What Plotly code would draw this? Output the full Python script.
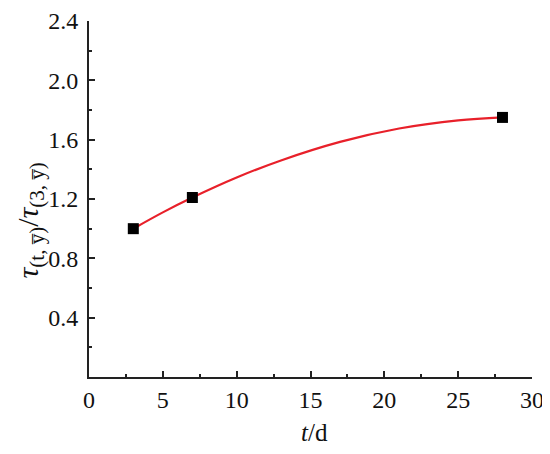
import plotly.graph_objects as go

days = [3, 7, 28]
ratio = [1.00, 1.21, 1.75]

# Red fitted curve
fit_days = [3, 5, 7, 10, 13, 17, 21, 25, 28]
fit_ratio = [1.00, 1.11, 1.21, 1.345, 1.46, 1.585, 1.675, 1.73, 1.75]

x_ticks = [0, 5, 10, 15, 20, 25, 30]
y_ticks = [0.4, 0.8, 1.2, 1.6, 2.0, 2.4]

FONT = "Liberation Serif, Times New Roman, serif"

fig = go.Figure()

fig.add_trace(go.Scatter(
    x=fit_days, y=fit_ratio, mode="lines",
    line=dict(color="#e8202a", width=2.2, shape="spline", smoothing=1.0),
    hoverinfo="skip", showlegend=False,
))

fig.add_trace(go.Scatter(
    x=days, y=ratio, mode="markers",
    marker=dict(symbol="square", size=11, color="black"),
    showlegend=False,
))

axis_common = dict(
    showline=True, linecolor="#222", linewidth=2,
    showgrid=False, zeroline=False, mirror=False, automargin=False,
    ticks="inside", ticklen=6, tickwidth=1.5, tickcolor="#222",
    tickfont=dict(family=FONT, size=24, color="#111"),
    ticklabeloverflow="allow",
)

fig.update_xaxes(
    range=[0, 30], tickvals=x_ticks,
    minor=dict(dtick=2.5, tick0=0, ticks="inside", ticklen=3, tickwidth=1.5, tickcolor="#222"),
    **axis_common,
)
fig.update_yaxes(
    range=[0, 2.4], tickvals=y_ticks, tickformat=".1f",
    minor=dict(dtick=0.2, tick0=0, ticks="inside", ticklen=3, tickwidth=1.5, tickcolor="#222"),
    ticklabelstandoff=4,
    **axis_common,
)

# page body has an 8px margin, so the figure is sized 542x446
fig.update_layout(
    width=542, height=446,
    margin=dict(l=81, r=18, t=13, b=77),
    paper_bgcolor="white", plot_bgcolor="white",
    annotations=[
        dict(text="<i>t</i>/d", xref="paper", yref="paper", x=0.508, y=-0.157,
             xanchor="center", yanchor="middle", showarrow=False,
             font=dict(family=FONT, size=25, color="#111")),
        dict(text="<i>τ</i><sub>(t, y̅)</sub>/<i>τ</i><sub>(3, y̅)</sub>",
             xref="paper", yref="paper", x=-0.133, y=0.44, textangle=-90,
             xanchor="center", yanchor="middle", showarrow=False,
             font=dict(family=FONT, size=30, color="#111")),
    ],
)

fig.write_html("out.html")
